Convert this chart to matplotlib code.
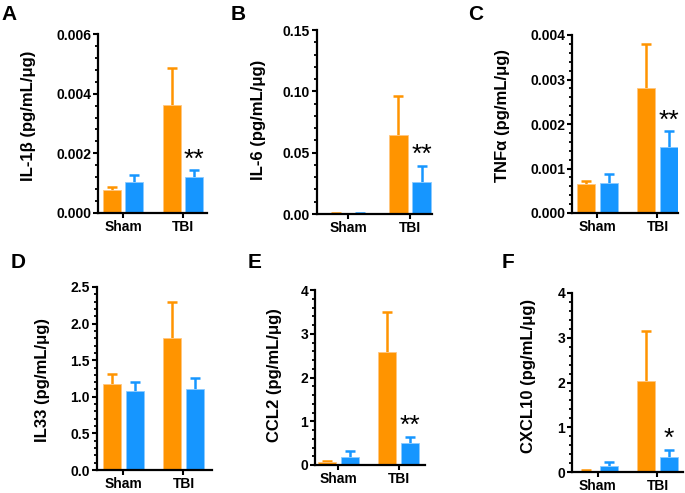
import matplotlib
matplotlib.use('Agg')
import matplotlib.pyplot as plt
from matplotlib.ticker import MultipleLocator, AutoMinorLocator, FormatStrFormatter

plt.rcParams['font.family'] = ['Liberation Sans', 'DejaVu Sans']
plt.rcParams['font.weight'] = 'bold'

groups = ['Sham', 'TBI']

# panel data: vehicle (orange) and treated (blue) means with upper SEM
il1b_veh = [0.00076, 0.00362]
il1b_veh_err = [0.00011, 0.00123]
il1b_trt = [0.00103, 0.00119]
il1b_trt_err = [0.00023, 0.00024]

il6_veh = [0.0008, 0.0646]
il6_veh_err = [0.0003, 0.0317]
il6_trt = [0.0008, 0.0258]
il6_trt_err = [0.0003, 0.0135]

tnf_veh = [0.00065, 0.00282]
tnf_veh_err = [0.00007, 0.00098]
tnf_trt = [0.00067, 0.00149]
tnf_trt_err = [0.00020, 0.00035]

il33_veh = [1.18, 1.80]
il33_veh_err = [0.13, 0.50]
il33_trt = [1.08, 1.11]
il33_trt_err = [0.12, 0.15]

ccl2_veh = [0.06, 2.58]
ccl2_veh_err = [0.03, 0.91]
ccl2_trt = [0.19, 0.50]
ccl2_trt_err = [0.13, 0.15]

cxcl10_veh = [0.03, 2.03]
cxcl10_veh_err = [0.015, 1.11]
cxcl10_trt = [0.14, 0.335]
cxcl10_trt_err = [0.09, 0.165]

ORANGE = '#FF9400'
BLUE = '#1696FF'
W, H = 685, 493

panels = [
    # letter, ylabel, data, ymax, major, fmt, star, axes px (l, t, r, b), xlim, label pos, letter pos
    ('A', 'IL-1β (pg/mL/μg)', (il1b_veh, il1b_veh_err, il1b_trt, il1b_trt_err),
     0.006, 0.002, '%.3f', '**', (98, 34, 207, 213), (-0.417, 1.40), (28, 116), (9, 15)),
    ('B', 'IL-6 (pg/mL/μg)', (il6_veh, il6_veh_err, il6_trt, il6_trt_err),
     0.15, 0.05, '%.2f', '**', (317, 30, 432, 214), (-0.50, 1.355), (258, 120), (238, 15)),
    ('C', 'TNFα (pg/mL/μg)', (tnf_veh, tnf_veh_err, tnf_trt, tnf_trt_err),
     0.004, 0.001, '%.3f', '**', (572, 35, 678, 213), (-0.425, 1.342), (502, 115), (476, 15)),
    ('D', 'IL33 (pg/mL/μg)', (il33_veh, il33_veh_err, il33_trt, il33_trt_err),
     2.5, 0.5, '%.1f', '', (97, 287, 212, 470), (-0.44, 1.475), (43, 380), (18, 263)),
    ('E', 'CCL2 (pg/mL/μg)', (ccl2_veh, ccl2_veh_err, ccl2_trt, ccl2_trt_err),
     4, 1, '%d', '**', (315, 290, 425, 465), (-0.39, 1.44), (275, 375), (255, 263)),
    ('F', 'CXCL10 (pg/mL/μg)', (cxcl10_veh, cxcl10_veh_err, cxcl10_trt, cxcl10_trt_err),
     4, 1, '%d', '*', (572, 293, 683, 472), (-0.425, 1.425), (528, 376), (508, 263)),
]

fig = plt.figure(figsize=(W / 100, H / 100), dpi=100)

x = [0, 1]
off = 0.19
bw = 0.30


def upper_err(ax, xs, ys, errs, color):
    eb = ax.errorbar(xs, ys, yerr=[[0] * len(errs), errs], fmt='none', ecolor=color,
                     elinewidth=1.8, capsize=3.5, capthick=1.8, zorder=1)
    # hide the caps sitting on the bar tops
    caps = eb[1]
    caps[0].set_visible(False)


for letter, ylab, data, ymax, major, fmt, star, box, xlim, lab, let in panels:
    veh, veh_err, trt, trt_err = data
    l, t, r, b = box
    ax = fig.add_axes([l / W, 1 - b / H, (r - l) / W, (b - t) / H])

    xv = [i - off for i in x]
    xt = [i + off for i in x]
    upper_err(ax, xv, veh, veh_err, ORANGE)
    upper_err(ax, xt, trt, trt_err, BLUE)
    ax.bar(xv, veh, width=bw, color=ORANGE, edgecolor='#FFC680', linewidth=0.6, zorder=2)
    ax.bar(xt, trt, width=bw, color=BLUE, edgecolor='#8CCBFF', linewidth=0.6, zorder=2)

    if star:
        ax.annotate(star, (xt[1], trt[1] + trt_err[1]), xytext=(0, -1),
                    textcoords='offset points', ha='center', va='bottom',
                    fontsize=19, fontweight='normal')

    ax.set_xlim(*xlim)
    ax.set_ylim(0, ymax)
    ax.set_xticks(x)
    ax.set_xticklabels(groups)
    ax.yaxis.set_major_locator(MultipleLocator(major))
    ax.yaxis.set_minor_locator(AutoMinorLocator(5))
    ax.yaxis.set_major_formatter(FormatStrFormatter(fmt))

    for s in ['top', 'right']:
        ax.spines[s].set_visible(False)
    for s in ['left', 'bottom']:
        ax.spines[s].set_linewidth(1.6)
        ax.spines[s].set_zorder(3)
    ax.tick_params(axis='both', which='major', length=3.5, width=1.5,
                   labelsize=10, pad=1.5)
    ax.tick_params(axis='y', which='minor', length=2, width=1.3)
    ax.tick_params(axis='x', which='minor', bottom=False)
    for tl in ax.get_xticklabels() + ax.get_yticklabels():
        tl.set_fontweight('bold')

    fig.text(lab[0] / W, 1 - lab[1] / H, ylab, rotation=90, ha='center', va='center',
             fontsize=12, fontweight='bold')
    fig.text(let[0] / W, 1 - let[1] / H, letter, ha='center', va='center',
             fontsize=15, fontweight='bold')

fig.savefig('out.png', dpi=100)
